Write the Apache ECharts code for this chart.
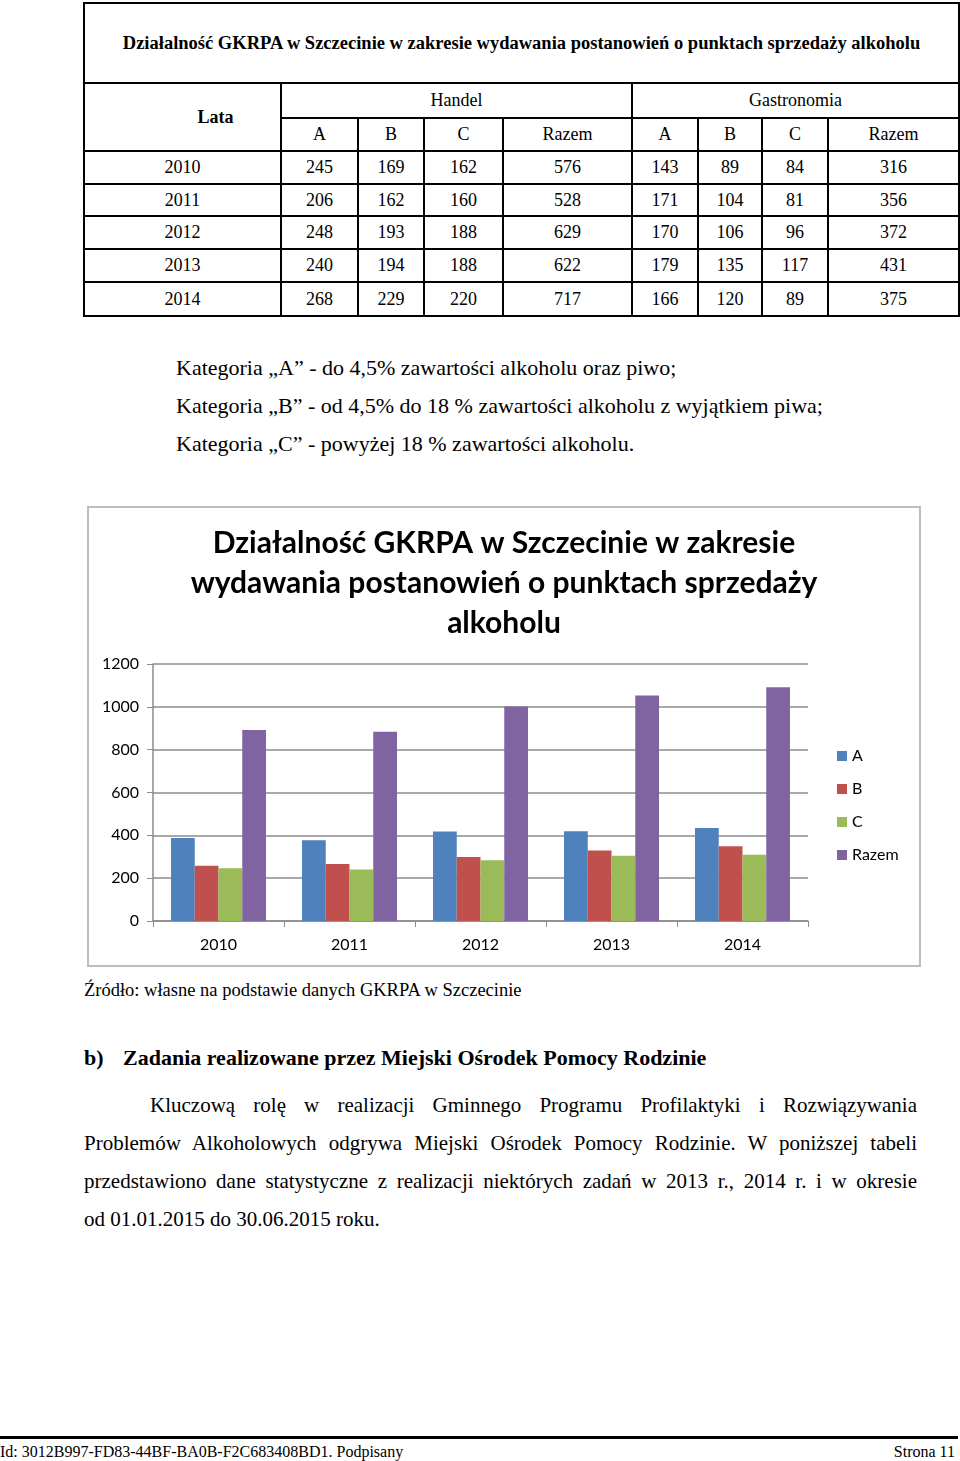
<!DOCTYPE html>
<html lang="pl">
<head>
<meta charset="UTF-8">
<title>Działalność GKRPA w Szczecinie</title>
<script src="https://cdn.jsdelivr.net/npm/echarts@6/dist/echarts.min.js"></script>
<style>
  html, body { margin: 0; padding: 0; background: #fff; }
  body { width: 960px; height: 1461px; position: relative; overflow: hidden;
         font-family: "Liberation Serif", "DejaVu Serif", serif; color: #000; }
  .abs { position: absolute; white-space: nowrap; }
  table.t { position: absolute; left: 83px; top: 2px; border-collapse: collapse;
            font-size: 18px; table-layout: fixed; }
  table.t td { border: 2px solid #000; text-align: center; padding: 0; }
  .kat { font-size: 22px; left: 176px; }
  .par div { position: absolute; left: 84px; width: 833px; font-size: 21px;
             text-align: justify; text-align-last: justify; white-space: nowrap; }
  #chart { position: absolute; left: 87px; top: 506px; width: 834px; height: 461px;
           box-sizing: border-box; border: 2px solid #bdbdbd; }
</style>
</head>
<body>

<table class="t">
  <colgroup>
    <col style="width:197px"><col style="width:77px"><col style="width:66px"><col style="width:79px">
    <col style="width:129px"><col style="width:66px"><col style="width:64px"><col style="width:66px">
    <col style="width:131px">
  </colgroup>
  <tr style="height:80px"><td colspan="9" style="font-weight:bold;font-size:18.5px;">Działalność GKRPA w Szczecinie w zakresie wydawania postanowień o punktach sprzedaży alkoholu</td></tr>
  <tr style="height:35px"><td rowspan="2" style="font-weight:bold;padding-left:66px;">Lata</td><td colspan="4">Handel</td><td colspan="4">Gastronomia</td></tr>
  <tr style="height:33px"><td>A</td><td>B</td><td>C</td><td>Razem</td><td>A</td><td>B</td><td>C</td><td>Razem</td></tr>
  <tbody id="rows"></tbody>
</table>

<div class="abs kat" style="top:355px;">Kategoria „A” - do 4,5% zawartości alkoholu oraz piwo;</div>
<div class="abs kat" style="top:393px;">Kategoria „B” - od 4,5% do 18 % zawartości alkoholu z wyjątkiem piwa;</div>
<div class="abs kat" style="top:431px;">Kategoria „C” - powyżej 18 % zawartości alkoholu.</div>

<div id="chart"></div>

<div class="abs" style="left:84px;top:980px;font-size:18.5px;">Źródło: własne na podstawie danych GKRPA w Szczecinie</div>
<div class="abs" style="left:84px;top:1045px;font-size:22px;font-weight:bold;">b)</div>
<div class="abs" style="left:123px;top:1045px;font-size:22px;font-weight:bold;">Zadania realizowane przez Miejski Ośrodek Pomocy Rodzinie</div>

<div class="par">
  <div style="top:1093px;left:150px;width:767px;">Kluczową rolę w realizacji Gminnego Programu Profilaktyki i Rozwiązywania</div>
  <div style="top:1131px;">Problemów Alkoholowych odgrywa Miejski Ośrodek Pomocy Rodzinie. W poniższej tabeli</div>
  <div style="top:1169px;">przedstawiono dane statystyczne z realizacji niektórych zadań w 2013 r., 2014 r. i w okresie</div>
  <div style="top:1207px;text-align-last:left;">od 01.01.2015 do 30.06.2015 roku.</div>
</div>

<div class="abs" style="left:0;top:1436px;width:958px;height:3px;background:#000;"></div>
<div class="abs" style="left:0;top:1443px;font-size:16px;">Id: 3012B997-FD83-44BF-BA0B-F2C683408BD1. Podpisany</div>
<div class="abs" style="right:5px;top:1443px;font-size:16px;">Strona 11</div>

<script type="text/javascript">
    // dane z tabeli
    var lata = ['2010', '2011', '2012', '2013', '2014'];
    var handelA = [245, 206, 248, 240, 268];
    var handelB = [169, 162, 193, 194, 229];
    var handelC = [162, 160, 188, 188, 220];
    var handelRazem = [576, 528, 629, 622, 717];
    var gastroA = [143, 171, 170, 179, 166];
    var gastroB = [89, 104, 106, 135, 120];
    var gastroC = [84, 81, 96, 117, 89];
    var gastroRazem = [316, 356, 372, 431, 375];

    // wartości na wykresie
    var wykresA = [388, 377, 418, 419, 434];
    var wykresB = [258, 266, 299, 329, 349];
    var wykresC = [246, 241, 284, 305, 309];
    var wykresRazem = [892, 884, 1001, 1053, 1092];

    var rowHeights = [33, 32, 33, 33, 34];

    // wiersze tabeli
    var tbody = document.getElementById('rows');
    for (var i = 0; i < lata.length; i++) {
        var tr = document.createElement('tr');
        tr.style.height = rowHeights[i] + 'px';
        var cells = [lata[i], handelA[i], handelB[i], handelC[i], handelRazem[i],
                     gastroA[i], gastroB[i], gastroC[i], gastroRazem[i]];
        for (var j = 0; j < cells.length; j++) {
            var td = document.createElement('td');
            td.textContent = cells[j];
            tr.appendChild(td);
        }
        tbody.appendChild(tr);
    }

    var myChart = echarts.init(document.getElementById('chart'));
    var font = 'Lato, "Open Sans", sans-serif';

    var option = {
        animation: false,
        color: ['#4F81BD', '#C0504D', '#9BBB59', '#8064A2'],
        title: {
            text: 'Działalność GKRPA w Szczecinie w zakresie\nwydawania postanowień o punktach sprzedaży\nalkoholu',
            left: 'center',
            top: 10,
            textStyle: { fontFamily: font, fontWeight: 'bold', fontSize: 30, lineHeight: 40, color: '#000' }
        },
        legend: {
            orient: 'vertical',
            left: 748,
            top: 240,
            padding: 0,
            itemWidth: 10,
            itemHeight: 10,
            itemGap: 17,
            icon: 'rect',
            textStyle: { fontFamily: font, fontSize: 16, color: '#000' },
            data: ['A', 'B', 'C', 'Razem']
        },
        grid: { left: 64, right: 111, top: 156, height: 257 },
        xAxis: {
            type: 'category',
            data: lata,
            axisLine: { lineStyle: { color: '#8c8c8c', width: 1.5 } },
            axisTick: { show: true, length: 6, lineStyle: { color: '#8c8c8c' } },
            axisLabel: { fontFamily: font, fontSize: 16, color: '#000', margin: 16 }
        },
        yAxis: {
            type: 'value',
            min: 0,
            max: 1200,
            interval: 200,
            axisLine: { show: true, lineStyle: { color: '#8c8c8c', width: 1.5 } },
            axisTick: { show: true, length: 6, lineStyle: { color: '#8c8c8c' } },
            axisLabel: { fontFamily: font, fontSize: 16, color: '#000', margin: 14,
                         formatter: function (v) { return String(v); } },
            splitLine: { lineStyle: { color: '#8c8c8c', width: 1.5 } }
        },
        series: [
            { name: 'A', type: 'bar', barGap: '0%', barCategoryGap: '27.5%', data: wykresA },
            { name: 'B', type: 'bar', data: wykresB },
            { name: 'C', type: 'bar', data: wykresC },
            { name: 'Razem', type: 'bar', data: wykresRazem }
        ]
    };

    myChart.setOption(option);
</script>
</body>
</html>
